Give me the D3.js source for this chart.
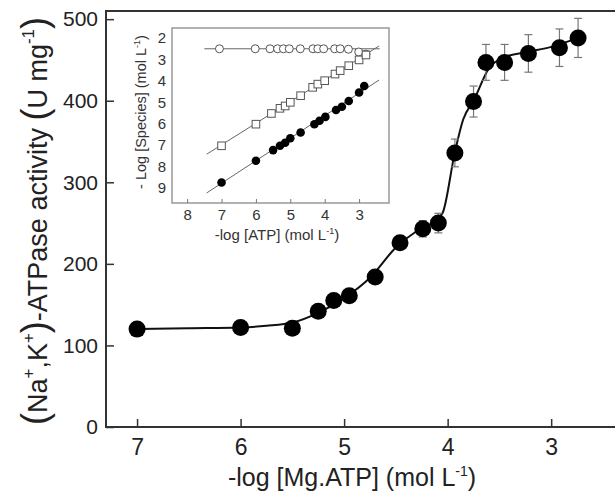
<!DOCTYPE html>
<html>
<head>
<meta charset="utf-8">
<script src="https://cdn.jsdelivr.net/npm/d3@7"></script>
<style>
  body { margin: 0; background: #fff; }
  svg { display: block; font-family: Arial, "Liberation Sans", sans-serif; }
</style>
</head>
<body>
<svg id="chart" width="615" height="494"></svg>
<script>
// main plot: activity vs -log[Mg.ATP]
const mgAtp = [7.0, 6.0, 5.5, 5.25, 5.1, 4.95, 4.7, 4.46, 4.24, 4.09, 3.93, 3.75, 3.63, 3.45, 3.22, 2.92, 2.74];
const activity = [120, 122, 121, 142, 155, 161, 184, 226, 243, 250, 336, 399, 447, 447, 458, 465, 477];
const activityErr = [0, 0, 0, 0, 0, 0, 0, 8, 10, 12, 17, 19, 22, 22, 23, 23, 24];

// fitted curve
const fitX = [7.0, 6.5, 6.0, 5.75, 5.5, 5.25, 5.0, 4.75, 4.5, 4.3, 4.15, 4.05, 3.93, 3.85, 3.75, 3.6, 3.46, 3.22, 3.0, 2.74];
const fitY = [120, 121, 122, 124, 128, 140, 158, 183, 220, 240, 250, 262, 337, 377, 400, 440, 453, 460, 466, 477];

const mainXTicks = [7, 6, 5, 4, 3];
const mainYTicks = [0, 100, 200, 300, 400, 500];

// inset: -log[species] vs -log[ATP]
const insetOpenX = [7.06, 6.02, 5.59, 5.37, 5.2, 5.03, 4.71, 4.34, 4.2, 4.03, 3.71, 3.55, 3.31, 3.01, 2.8];
const insetOpenY = [2.5, 2.5, 2.5, 2.5, 2.5, 2.5, 2.5, 2.5, 2.5, 2.5, 2.5, 2.5, 2.52, 2.65, 2.75];
const insetSquareX = [7.0, 6.0, 5.55, 5.3, 5.15, 5.0, 4.7, 4.35, 4.2, 4.0, 3.7, 3.55, 3.3, 3.0, 2.8];
const insetSquareY = [7.03, 6.02, 5.52, 5.28, 5.17, 5.0, 4.69, 4.3, 4.15, 3.99, 3.68, 3.52, 3.29, 3.02, 2.79];
const insetFilledX = [7.0, 6.0, 5.5, 5.3, 5.15, 5.0, 4.7, 4.3, 4.15, 3.98, 3.67, 3.5, 3.3, 3.0, 2.85];
const insetFilledY = [8.74, 7.73, 7.23, 7.03, 6.89, 6.68, 6.41, 6.02, 5.86, 5.68, 5.36, 5.21, 4.94, 4.54, 4.24];

// regression lines (ends)
const lineOpenX = [7.5, 2.4], lineOpenY = [2.5, 2.5];
const lineSquareX = [7.43, 2.42], lineSquareY = [7.42, 2.37];
const lineFilledX = [7.43, 2.42], lineFilledY = [9.23, 3.96];

const insetXTicks = [8, 7, 6, 5, 4, 3];
const insetYTicks = [2, 3, 4, 5, 6, 7, 8, 9];

const svg = d3.select("#chart");

// ---------- main chart ----------
const x = d3.scaleLinear().domain([7.3, 2.2]).range([106, 634]);
const y = d3.scaleLinear().domain([0, 510]).range([427, 11]);

// frame (left, bottom, top; right edge runs off the picture)
svg.append("path")
    .attr("d", `M${x(2.2)},${y(510)} L${x(7.3)},${y(510)} L${x(7.3)},${y(0)} L${x(2.2)},${y(0)}`)
    .attr("fill", "none")
    .attr("stroke", "#333")
    .attr("stroke-width", 2);

const xAxis = svg.append("g")
    .attr("transform", `translate(0,${y(0)})`)
    .call(d3.axisBottom(x).tickValues(mainXTicks).tickSizeInner(-8).tickSizeOuter(0).tickPadding(12).tickFormat(d3.format("d")));
xAxis.select(".domain").remove();
xAxis.selectAll("line").attr("stroke", "#333").attr("stroke-width", 1.5);
xAxis.selectAll("text").attr("font-size", 23).attr("fill", "#222");

const yAxis = svg.append("g")
    .attr("transform", `translate(${x(7.3)},0)`)
    .call(d3.axisLeft(y).tickValues(mainYTicks).tickSizeInner(-8).tickSizeOuter(0).tickPadding(8));
yAxis.select(".domain").remove();
yAxis.selectAll("line").attr("stroke", "#333").attr("stroke-width", 1.5);
yAxis.selectAll("text").attr("font-size", 21).attr("fill", "#222");

// fit curve
const fitData = fitX.map((v, i) => ({ x: v, y: fitY[i] }));
svg.append("path")
    .datum(fitData)
    .attr("fill", "none")
    .attr("stroke", "#111")
    .attr("stroke-width", 2)
    .attr("d", d3.line().x(d => x(d.x)).y(d => y(d.y)).curve(d3.curveMonotoneX));

const mainData = mgAtp.map((v, i) => ({ x: v, y: activity[i], e: activityErr[i] }));

// error bars
const eb = svg.append("g").attr("stroke", "#777").attr("stroke-width", 1.2);
mainData.filter(d => d.e > 0).forEach(d => {
    eb.append("line").attr("x1", x(d.x)).attr("x2", x(d.x)).attr("y1", y(d.y - d.e)).attr("y2", y(d.y + d.e));
    eb.append("line").attr("x1", x(d.x) - 4).attr("x2", x(d.x) + 4).attr("y1", y(d.y - d.e)).attr("y2", y(d.y - d.e));
    eb.append("line").attr("x1", x(d.x) - 4).attr("x2", x(d.x) + 4).attr("y1", y(d.y + d.e)).attr("y2", y(d.y + d.e));
});

svg.append("g")
    .selectAll("circle")
    .data(mainData)
    .enter().append("circle")
    .attr("cx", d => x(d.x))
    .attr("cy", d => y(d.y))
    .attr("r", 8.5)
    .attr("fill", "#000");

// axis titles
const xTitle = svg.append("text")
    .attr("x", 352)
    .attr("y", 486)
    .attr("text-anchor", "middle")
    .attr("font-size", 25)
    .attr("fill", "#222");
xTitle.append("tspan").text("-log [Mg.ATP] (mol L");
xTitle.append("tspan").text("-1").attr("font-size", 14).attr("dy", -10);
xTitle.append("tspan").text(")").attr("dy", 10);

const yTitle = svg.append("text")
    .attr("transform", "translate(47,221) rotate(-90)")
    .attr("text-anchor", "middle")
    .attr("font-size", 27)
    .attr("fill", "#222");
yTitle.append("tspan").text("(").attr("font-size", 36);
yTitle.append("tspan").text("Na");
yTitle.append("tspan").text("+").attr("font-size", 17).attr("dy", -13);
yTitle.append("tspan").text(",K").attr("dy", 13);
yTitle.append("tspan").text("+").attr("font-size", 17).attr("dy", -13);
yTitle.append("tspan").text(")").attr("font-size", 36).attr("dy", 13);
yTitle.append("tspan").text("-ATPase activity ");
yTitle.append("tspan").text("(").attr("font-size", 36);
yTitle.append("tspan").text("U mg");
yTitle.append("tspan").text("-1").attr("font-size", 17).attr("dy", -13);
yTitle.append("tspan").text(")").attr("font-size", 36).attr("dy", 13);

// ---------- inset ----------
const ix = d3.scaleLinear().domain([8.44, 2.13]).range([172, 389]);
const iy = d3.scaleLinear().domain([1.53, 9.7]).range([28, 203]);

svg.append("rect")
    .attr("x", ix(8.44)).attr("y", iy(1.53))
    .attr("width", ix(2.13) - ix(8.44)).attr("height", iy(9.7) - iy(1.53))
    .attr("fill", "#fff")
    .attr("stroke", "#999")
    .attr("stroke-width", 1.5);

const ixAxis = svg.append("g")
    .attr("transform", `translate(0,${iy(9.7)})`)
    .call(d3.axisBottom(ix).tickValues(insetXTicks).tickSizeInner(-4).tickSizeOuter(0).tickPadding(6).tickFormat(d3.format("d")));
ixAxis.select(".domain").remove();
ixAxis.selectAll("line").attr("stroke", "#777");
ixAxis.selectAll("text").attr("font-size", 15).attr("fill", "#333");

const iyAxis = svg.append("g")
    .attr("transform", `translate(${ix(8.44)},0)`)
    .call(d3.axisLeft(iy).tickValues(insetYTicks).tickSizeInner(0).tickSizeOuter(0).tickPadding(6).tickFormat(d3.format("d")));
iyAxis.select(".domain").remove();
iyAxis.selectAll("text").attr("font-size", 15).attr("fill", "#333");

const ixTitle = svg.append("text")
    .attr("x", 277).attr("y", 240)
    .attr("text-anchor", "middle")
    .attr("font-size", 15)
    .attr("fill", "#333");
ixTitle.append("tspan").text("-log [ATP] (mol L");
ixTitle.append("tspan").text("-1").attr("font-size", 9).attr("dy", -6);
ixTitle.append("tspan").text(")").attr("dy", 6);

const iyTitle = svg.append("text")
    .attr("transform", "translate(146,112) rotate(-90)")
    .attr("text-anchor", "middle")
    .attr("font-size", 14.5)
    .attr("fill", "#333");
iyTitle.append("tspan").text("- Log [Species] (mol L");
iyTitle.append("tspan").text("-1").attr("font-size", 9).attr("dy", -6);
iyTitle.append("tspan").text(")").attr("dy", 6);

// regression lines
const insetLines = [[lineOpenX, lineOpenY], [lineSquareX, lineSquareY], [lineFilledX, lineFilledY]];
svg.append("g")
    .attr("stroke", "#666")
    .attr("stroke-width", 1)
    .selectAll("line")
    .data(insetLines)
    .enter().append("line")
    .attr("x1", d => ix(d[0][0])).attr("y1", d => iy(d[1][0]))
    .attr("x2", d => ix(d[0][1])).attr("y2", d => iy(d[1][1]));

// open circles
svg.append("g")
    .selectAll("circle")
    .data(insetOpenX.map((v, i) => ({ x: v, y: insetOpenY[i] })))
    .enter().append("circle")
    .attr("cx", d => ix(d.x)).attr("cy", d => iy(d.y))
    .attr("r", 4)
    .attr("fill", "#fff")
    .attr("stroke", "#555")
    .attr("stroke-width", 1);

// open squares
svg.append("g")
    .selectAll("rect")
    .data(insetSquareX.map((v, i) => ({ x: v, y: insetSquareY[i] })))
    .enter().append("rect")
    .attr("x", d => ix(d.x) - 3.8).attr("y", d => iy(d.y) - 3.8)
    .attr("width", 7.6).attr("height", 7.6)
    .attr("fill", "#fff")
    .attr("stroke", "#555")
    .attr("stroke-width", 1);

// filled circles
svg.append("g")
    .selectAll("circle")
    .data(insetFilledX.map((v, i) => ({ x: v, y: insetFilledY[i] })))
    .enter().append("circle")
    .attr("cx", d => ix(d.x)).attr("cy", d => iy(d.y))
    .attr("r", 4.3)
    .attr("fill", "#000");
</script>
</body>
</html>
